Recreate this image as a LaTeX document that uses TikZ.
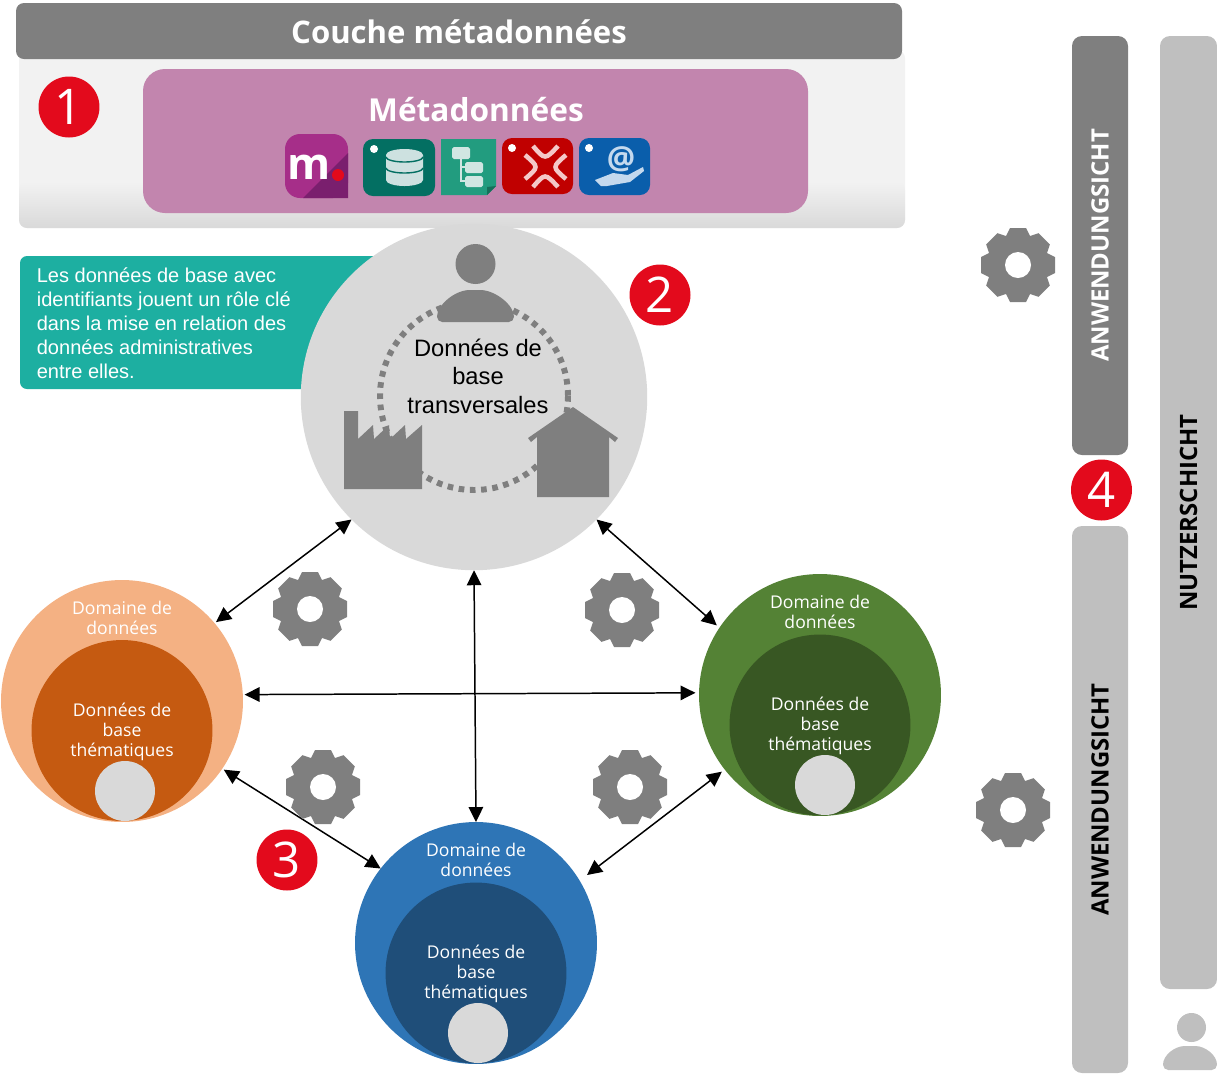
\documentclass[tikz,border=0pt]{standalone}
\usepackage{fontspec}
\setmainfont{Open Sans}
\newfontfamily\labelfont{Liberation Sans}
\usetikzlibrary{arrows.meta}

\definecolor{headgrey}{HTML}{7F7F7F}
\definecolor{bargrey}{HTML}{BFBFBF}
\definecolor{bandlight}{HTML}{F2F2F2}
\definecolor{banddark}{HTML}{D9D9D9}
\definecolor{metapurple}{HTML}{C285AE}
\definecolor{badgered}{HTML}{E30A1C}
\definecolor{noteteal}{HTML}{1DAFA1}
\definecolor{orangelight}{HTML}{F4B183}
\definecolor{orangedark}{HTML}{C55A11}
\definecolor{greenlight}{HTML}{548235}
\definecolor{greendark}{HTML}{385723}
\definecolor{bluelight}{HTML}{2E75B6}
\definecolor{bluedark}{HTML}{1F4E79}
\definecolor{mlight}{HTML}{A62E89}
\definecolor{mdark}{HTML}{7A1F6E}
\definecolor{dbback}{HTML}{036F62}
\definecolor{dbfront}{HTML}{CDE1E0}
\definecolor{treeback}{HTML}{229C7F}
\definecolor{treefold}{HTML}{176F5A}
\definecolor{treefront}{HTML}{D0E6E2}
\definecolor{clashback}{HTML}{C00000}
\definecolor{clashfront}{HTML}{F4C8C8}
\definecolor{mailback}{HTML}{0A5EAB}
\definecolor{mailfront}{HTML}{C4D9EE}

\tikzset{
  badge/.style={circle, fill=badgered, text=white, minimum size=1.22cm, inner sep=0pt, font=\fontsize{28}{28}\selectfont},
  domaindisc/.style={circle, minimum size=4.84cm, inner sep=0pt, outer sep=0pt},
  coredisc/.style={circle, minimum size=3.62cm, inner sep=0pt},
  corebase/.style={circle, fill=banddark, minimum size=1.2cm, inner sep=0pt},
  domaintext/.style={text=white, align=center, font=\fontsize{10}{11.5}\selectfont},
  barshape/.style={rounded corners=0.2cm},
  bartext/.style={rotate=90, text=black, font=\bfseries\fontsize{13.6}{13.6}\selectfont},
  linkline/.style={{Triangle[length=0.3cm,width=0.29cm]}-{Triangle[length=0.3cm,width=0.29cm]}, line width=0.85pt},
  gearicon/.pic={
    \fill[headgrey] (0,0) circle (28);
    \foreach \a in {0,45,...,315}
      \fill[headgrey, rotate=\a] (-14,-25) -- (-8,-37) -- (8,-37) -- (14,-25) -- cycle;
    \fill[white] (0,0) circle (13);
  },
}

\begin{document}
\begin{tikzpicture}[x=0.02cm, y=-0.02cm]
  \useasboundingbox (0,0) rectangle (1217,1073);

  % metadata layer
  \fill[bandlight, rounded corners=0.16cm] (19,50) rectangle (905,228);
  \shade[top color=bandlight, bottom color=banddark, rounded corners=0.16cm] (19,182) rectangle (905,228);
  \fill[headgrey, rounded corners=0.16cm] (16,3) rectangle (902,59)
    node[midway, yshift=-0.4pt, text=white, font=\bfseries\fontsize{17.7}{17.7}\selectfont] (layertitle) {Couche métadonnées};
  \fill[metapurple, rounded corners=0.44cm] (143,69) rectangle (808,213);
  \node[text=white, font=\bfseries\fontsize{18}{18}\selectfont] (metatitle) at (476,110) {Métadonnées};

  % icons
  \fill[mlight, rounded corners=0.3cm] (285,134) rectangle (348,198);
  \fill[mdark] (348,153) -- (348,198) -- (303,198) -- cycle;
  \node[text=white, font=\bfseries\fontsize{25}{25}\selectfont] (micon) at (309,167) {m};
  \fill[badgered] (338,175) circle (6);

  \fill[dbback, rounded corners=0.2cm] (363,139) rectangle (435,196);
  \fill[white] (374,149) circle (4);
  \fill[dbfront] (386,155) -- (386,180) arc (180:0:18.5 and 6) -- (423,155) arc (0:180:18.5 and -6) -- cycle;
  \draw[dbback, line width=0.8pt] (386,157) arc (180:0:18.5 and 5);
  \draw[dbback, line width=0.8pt] (386,168) arc (180:0:18.5 and 5);

  \fill[treeback] (441,139) -- (496,139) -- (496,186) -- (487,195) -- (441,195) -- cycle;
  \fill[treefold] (496,186) -- (487,195) -- (487,187) -- cycle;
  \draw[treefront, line width=0.8pt] (461,159) -- (461,181) -- (465,181) (461,167) -- (465,167);
  \fill[treefront, rounded corners=1pt] (452,147) rectangle (470,159);
  \fill[treefront, rounded corners=1pt] (465,162) rectangle (483,173);
  \fill[treefront, rounded corners=1pt] (465,176) rectangle (483,187);

  \fill[clashback, rounded corners=0.2cm] (502,138) rectangle (573,194);
  \fill[white] (512,148) circle (4);
  \draw[clashfront, line width=2.6pt]
    (533,146) .. controls (545,160) .. (558,146)
    (533,187) .. controls (545,173) .. (558,187)
    (525,155) .. controls (539,167) .. (525,179)
    (566,155) .. controls (552,167) .. (566,179);

  \fill[mailback, rounded corners=0.2cm] (579,138) rectangle (650,195);
  \fill[white] (589,148) circle (4);
  \node[text=mailfront, font=\bfseries\fontsize{18}{18}\selectfont] (aticon) at (621,159) {@};
  \fill[mailfront] (595,180) -- (613,173) -- (628,175) -- (643,167) -- (644,171) -- (630,182) -- (607,186) -- (601,186) -- cycle;

  % note behind the central circle
  \fill[noteteal, rounded corners=0.14cm] (20,256) rectangle (400,389);
  \node[anchor=north west, inner sep=0pt, text=white, align=left, font=\labelfont\fontsize{11.4}{13.6}\selectfont] (note) at (36.5,267.5)
    {Les données de base avec\\identifiants jouent un rôle clé\\dans la mise en relation des\\données administratives\\entre elles.};

  % central circle
  \node[domaindisc, fill=banddark, minimum size=6.93cm] (central) at (474,397) {};
  \draw[headgrey, line width=3.4pt, dash pattern=on 3.2pt off 3.2pt] (474,396) circle (94);
  \fill[headgrey] (475.5,264) circle (20);
  \fill[headgrey, rounded corners=3pt] (437,322) .. controls (437,305) and (455,290) .. (475,290)
    .. controls (495,290) and (514,305) .. (514,322) -- cycle;
  \fill[headgrey] (344,411) -- (358,411) -- (358,439) -- (373,425) -- (374,439) -- (389,425) -- (390,439)
    -- (405,425) -- (406,439) -- (422,425) -- (422,489) -- (344,489) -- cycle;
  \fill[headgrey] (573,407) -- (618,438) -- (615,442) -- (609,437) -- (609,497) -- (537,497) -- (537,437)
    -- (531,442) -- (528,438) -- cycle;
  \node[align=center, font=\labelfont\fontsize{13.5}{16.2}\selectfont] (centraltext) at (478,376)
    {Données de\\base\\transversales};

  % domains
  \node[domaindisc, outer sep=1pt, fill=orangelight] (orange) at (122,701) {};
  \node[coredisc, fill=orangedark] (orangecore) at (122,730.5) {};
  \node[corebase] (orangebase) at (125,791) {};
  \node[domaintext] (orangetitle) at (122,618) {Domaine de\\données};
  \node[domaintext] (orangetext) at (122,732) {Données de\\base\\thématiques};

  \node[domaindisc, outer sep=2pt, fill=greenlight] (green) at (820,695) {};
  \node[coredisc, fill=greendark] (greencore) at (820,725) {};
  \node[corebase] (greenbase) at (825,785) {};
  \node[domaintext] (greentitle) at (820,612) {Domaine de\\données};
  \node[domaintext] (greentext) at (820,726) {Données de\\base\\thématiques};

  \node[domaindisc, fill=bluelight] (blue) at (476,943) {};
  \node[coredisc, fill=bluedark] (bluecore) at (476,973) {};
  \node[corebase] (bluebase) at (478,1033) {};
  \node[domaintext] (bluetitle) at (476,860) {Domaine de\\données};
  \node[domaintext] (bluetext) at (476,974) {Données de\\base\\thématiques};
  \coordinate (blueright) at (587,875);

  % links
  \draw[linkline] (central.225) -- (orange.40);
  \draw[linkline] (central.-45) -- (green.146);
  \draw[linkline] (central.south) -- (blue.north);
  \draw[linkline] (orange.3) -- (green.179);
  \draw[linkline] (orange.-34) -- (blue.142);
  \draw[linkline] (green.218) -- (blueright);

  % gears
  \pic at (1018,265) {gearicon};
  \pic at (310,609) {gearicon};
  \pic at (622,610) {gearicon};
  \pic at (323,787) {gearicon};
  \pic at (630,787) {gearicon};
  \pic at (1013,810) {gearicon};

  % numbers
  \node[badge] (one) at (69,107) {1};
  \node[badge] (two) at (660,295) {2};
  \node[badge] (three) at (287,860) {3};
  \node[badge] (four) at (1101.5,490) {4};

  % bars on the right
  \fill[headgrey, barshape] (1072,36) rectangle (1128,455)
    node[midway, bartext, text=white] (appview) {ANWENDUNGSICHT};
  \fill[bargrey, barshape] (1072,526) rectangle (1128,1073)
    node[midway, bartext] (dataview) {ANWENDUNGSICHT};
  \fill[bargrey, barshape] (1160,36) rectangle (1217,989)
    node[midway, bartext] (userview) {NUTZERSCHICHT};
  \fill[bargrey] (1191.5,1027.5) circle (14.5);
  \fill[bargrey, rounded corners=3pt] (1163,1070) .. controls (1163,1055) and (1175,1046) .. (1190,1046)
    .. controls (1205,1046) and (1217,1055) .. (1217,1070) -- cycle;
\end{tikzpicture}
\end{document}
